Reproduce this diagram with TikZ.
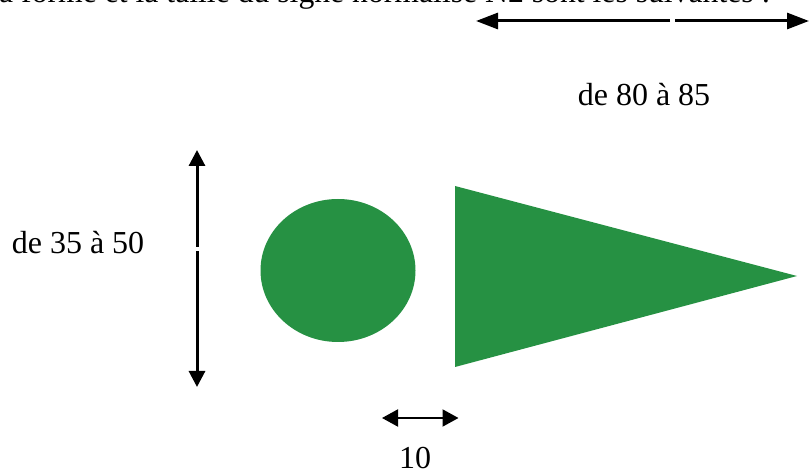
\documentclass[tikz,border=0pt]{standalone}
\usepackage{fontspec}
\setmainfont{Liberation Serif}
\usetikzlibrary{arrows.meta,shapes.geometric}
\definecolor{signgreen}{RGB}{38,145,67}
\tikzset{
  lbl/.style={inner sep=0pt,font=\fontsize{32}{36}\selectfont,text=black},
  dimtop/.style={line width=3pt,draw=black},
  headbig/.style={-{Triangle[length=22pt,width=16pt]}},
  headv/.style={-{Triangle[length=16pt,width=16pt]}},
  heads/.style={-{Triangle[length=16pt,width=17pt]}},
  signfill/.style={fill=signgreen,draw=none},
}
\begin{document}
\begin{tikzpicture}[x=1pt,y=-1pt]
\useasboundingbox (0,0) rectangle (809,470);
\clip (0,0) rectangle (809,470);
\node[lbl,anchor=base west,font=\fontsize{31.7}{36}\selectfont] (title) at (-1,2.5) {a forme et la taille du signe normalisé N2 sont les suivantes :};
% top dimension
\coordinate (tl) at (476,21);
\coordinate (tm1) at (670,21);
\coordinate (tm2) at (675,21);
\coordinate (tr) at (809,21);
\draw[dimtop,headbig] (tm1) -- (tl);
\draw[dimtop,headbig] (tm2) -- (tr);
\node[lbl] (t80) at (644,95) {de 80 à 85};
% vertical dimension
\coordinate (vt) at (197,150);
\coordinate (vm1) at (197,247);
\coordinate (vm2) at (197,251.5);
\coordinate (vb) at (197,387);
\draw[dimtop,headv] (vm1) -- (vt);
\draw[dimtop,headv] (vm2) -- (vb);
\node[lbl] (t35) at (78,243) {de 35 à 50};
% shapes
\fill[signfill] (338,270.5) ellipse [x radius=77.5,y radius=71.5];
\fill[signfill] (455,186) -- (797,276) -- (455,367) -- cycle;
% bottom dimension
\coordinate (bl) at (382,418);
\coordinate (bm) at (420,418);
\coordinate (br) at (458.5,418);
\draw[line width=2pt,heads] (bm) -- (bl);
\draw[line width=2pt,heads] (bm) -- (br);
\node[lbl] (t10) at (415,458) {10};
\end{tikzpicture}
\end{document}
